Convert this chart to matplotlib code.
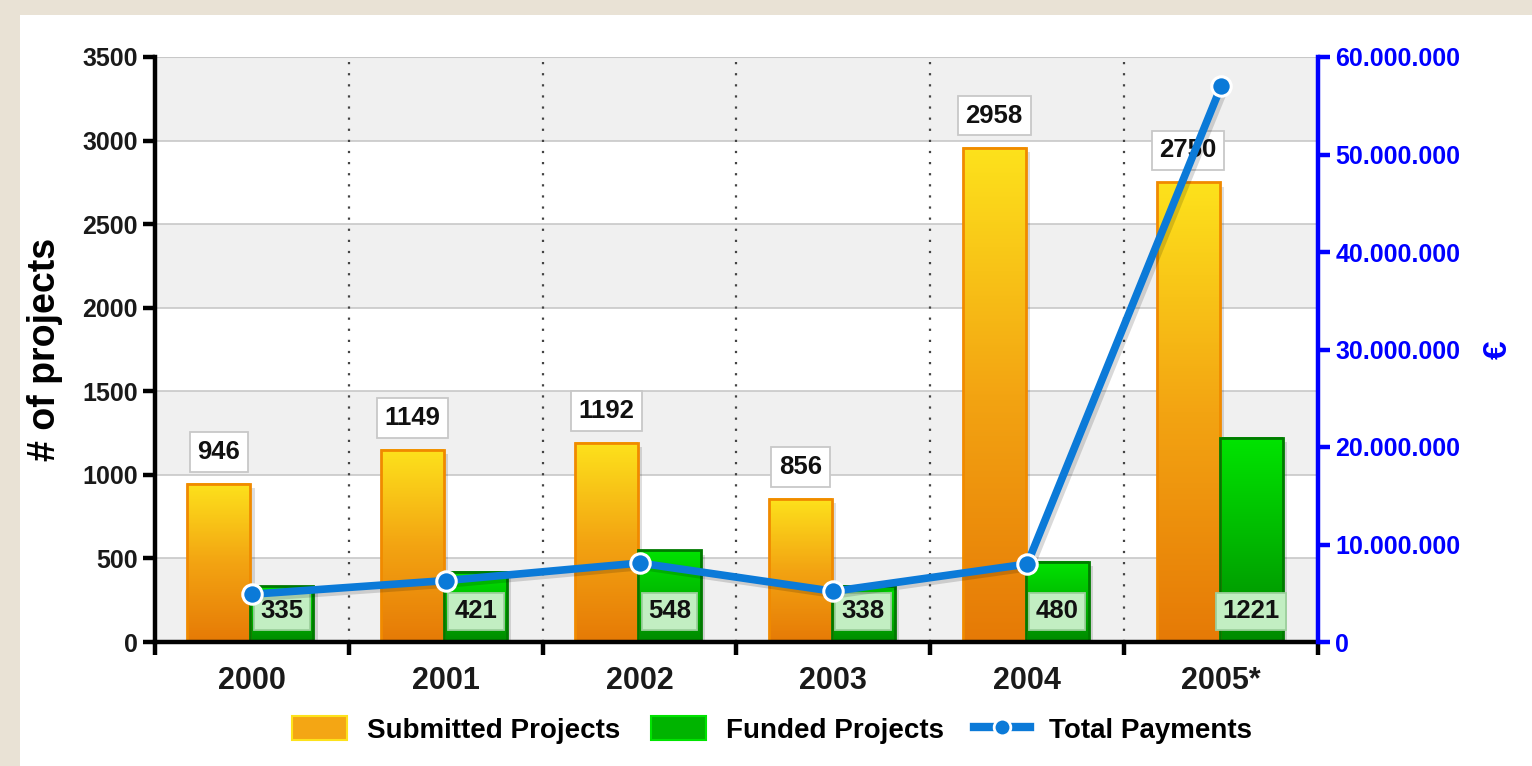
import numpy as np
import matplotlib
matplotlib.use("Agg")
import matplotlib.pyplot as plt
from matplotlib.patches import Rectangle
from matplotlib.lines import Line2D
from matplotlib.colors import LinearSegmentedColormap
import matplotlib.transforms as mtransforms

# ---- data ----
years = ["2000", "2001", "2002", "2003", "2004", "2005*"]
submitted = [946, 1149, 1192, 856, 2958, 2750]
funded = [335, 421, 548, 338, 480, 1221]
payments = [4.9e6, 6.3e6, 8.1e6, 5.2e6, 8.0e6, 57.0e6]
left_ticks = [0, 500, 1000, 1500, 2000, 2500, 3000, 3500]
right_ticks = [0, 10e6, 20e6, 30e6, 40e6, 50e6, 60e6]
right_labels = ["0", "10.000.000", "20.000.000", "30.000.000", "40.000.000",
                "50.000.000", "60.000.000"]

plt.rcParams['font.family'] = ['Liberation Sans', 'DejaVu Sans']
plt.rcParams['font.weight'] = 'bold'

fig = plt.figure(figsize=(15.32, 7.66), dpi=100)
fig.patch.set_facecolor('#e9e2d5')
# white panel
fig.patches.append(Rectangle((20/1532, 0), 1 - 20/1532, 1 - 15/766,
                             transform=fig.transFigure, facecolor='white',
                             edgecolor='none', zorder=-10))

ax = fig.add_axes([155/1532, 1 - 642/766, (1318 - 155)/1532, (642 - 57)/766])
ax.set_facecolor('white')
ax.set_xlim(-0.5, 5.5)
ax.set_ylim(0, 3500)

# alternating bands
for i, lo in enumerate(left_ticks[:-1]):
    if i % 2 == 0:
        ax.axhspan(lo, lo + 500, facecolor='#f0f0f0', edgecolor='none', zorder=0)
for t in left_ticks[1:-1]:
    ax.axhline(t, color='#c8c8c8', lw=1.2, zorder=0.5)
ax.axhline(3500, color='#c8c8c8', lw=1.5, zorder=0.5)
for b in np.arange(0.5, 5.5, 1):
    ax.axvline(b, color='#444444', lw=1.6, ls=(0, (1, 4)), zorder=0.6)

orange_cmap = LinearSegmentedColormap.from_list('o', ['#e67a06', '#f3a412', '#fde21c'])
green_cmap = LinearSegmentedColormap.from_list('g', ['#008a00', '#00b800', '#00e400'])
grad = np.linspace(0, 1, 256).reshape(-1, 1)

w = 0.325
x = np.arange(len(years))
xs_sub = x - w / 2 - 0.008
xs_fun = x + w / 2 - 0.008

def grad_bar(xc, h, cmap, edge):
    x0, x1 = xc - w / 2, xc + w / 2
    # shadow
    ax.add_patch(Rectangle((x0 + 0.022, 0), w, h - 25, facecolor='#000000',
                           alpha=0.13, edgecolor='none', zorder=1))
    ax.imshow(grad, extent=[x0, x1, 0, h], origin='lower', cmap=cmap,
              aspect='auto', zorder=2, interpolation='bilinear')
    ax.add_patch(Rectangle((x0, 0), w, h, facecolor='none', edgecolor=edge,
                           lw=2.0, zorder=2.5))

for xc, h in zip(xs_sub, submitted):
    grad_bar(xc, h, orange_cmap, '#f08a00')
for xc, h in zip(xs_fun, funded):
    grad_bar(xc, h, green_cmap, '#007a00')
ax.set_xlim(-0.5, 5.5)
ax.set_ylim(0, 3500)

# value labels
for xc, h in zip(xs_sub, submitted):
    ax.annotate(str(h), (xc, h), xytext=(0, 23), textcoords='offset points',
                ha='center', va='center', fontsize=18.5, fontweight='bold',
                color='#111111', zorder=6,
                bbox=dict(boxstyle='square,pad=0.3', facecolor='white',
                          edgecolor='#c8c8c8', lw=1.3))
for xc, h in zip(xs_fun, funded):
    ax.annotate(str(h), (xc, 0), xytext=(0, 22), textcoords='offset points',
                ha='center', va='center', fontsize=18.5, fontweight='bold',
                color='#111111', zorder=6,
                bbox=dict(boxstyle='square,pad=0.25', facecolor='#c2eec2',
                          edgecolor='#9ccf9c', lw=1.3))

# axes styling
for s in ['top', 'right']:
    ax.spines[s].set_visible(False)
ax.spines['left'].set_linewidth(3.2)
ax.spines['bottom'].set_linewidth(3.2)
ax.spines['left'].set_zorder(7)
ax.spines['bottom'].set_zorder(7)
ax.set_yticks(left_ticks)
ax.set_yticklabels([str(t) for t in left_ticks])
ax.tick_params(axis='y', direction='out', length=8.5, width=3.2, labelsize=18,
               pad=4, labelcolor='#1a1a1a')
ax.set_xticks(np.arange(-0.5, 6.0, 1))
ax.set_xticklabels([])
ax.tick_params(axis='x', which='major', direction='out', length=9, width=3.2)
ax.set_xticks(x, minor=True)
ax.set_xticklabels(years, minor=True, fontsize=22, fontweight='bold',
                   color='#1a1a1a')
ax.tick_params(axis='x', which='minor', length=0, pad=17)
ax.set_ylabel('# of projects', fontsize=27, fontweight='bold', labelpad=14)

# right axis
ax2 = ax.twinx()
ax2.set_ylim(0, 60e6)
ax2.set_xlim(-0.5, 5.5)
for s in ['top', 'left', 'bottom']:
    ax2.spines[s].set_visible(False)
ax2.spines['right'].set_color('#0000ff')
ax2.spines['right'].set_linewidth(3.2)
ax2.set_yticks(right_ticks)
ax2.set_yticklabels(right_labels)
ax2.tick_params(axis='y', colors='#0000ff', direction='out', length=8.5,
                width=3.2, labelsize=18, pad=4)
for lab in ax2.get_yticklabels():
    lab.set_color('#0000ff')
    lab.set_fontweight('bold')
ax2.set_ylabel('€', fontsize=24, fontweight='bold', color='#0000ff',
               labelpad=16)

line_color = '#0b7ad8'
shadow_tr = ax2.transData + mtransforms.ScaledTranslation(3/100, -3/100,
                                                          fig.dpi_scale_trans)
ax2.plot(x, payments, color='#000000', lw=6, alpha=0.15, zorder=3,
         transform=shadow_tr)
ax2.plot(x, payments, color=line_color, lw=5.5, marker='o', markersize=14,
         markerfacecolor=line_color, markeredgecolor='white',
         markeredgewidth=2.2, zorder=4, solid_capstyle='round')

# legend
h1 = Rectangle((0, 0), 1, 1, facecolor='#f4a614', edgecolor='#fde21c', lw=1.5)
h2 = Rectangle((0, 0), 1, 1, facecolor='#00b400', edgecolor='#00e400', lw=1.5)
h3 = Line2D([], [], color=line_color, lw=6, marker='o', markersize=12,
            markerfacecolor=line_color, markeredgecolor='white',
            markeredgewidth=2)
fig.legend([h1, h2, h3], ['Submitted Projects', 'Funded Projects', 'Total Payments'],
           loc='center', bbox_to_anchor=(772/1532, 1 - 730/766), ncol=3,
           frameon=False, handlelength=2.0, handleheight=0.9,
           columnspacing=1.1, handletextpad=0.7,
           prop={'weight': 'bold', 'size': 20})

fig.savefig('out.png', dpi=100, facecolor=fig.get_facecolor())
